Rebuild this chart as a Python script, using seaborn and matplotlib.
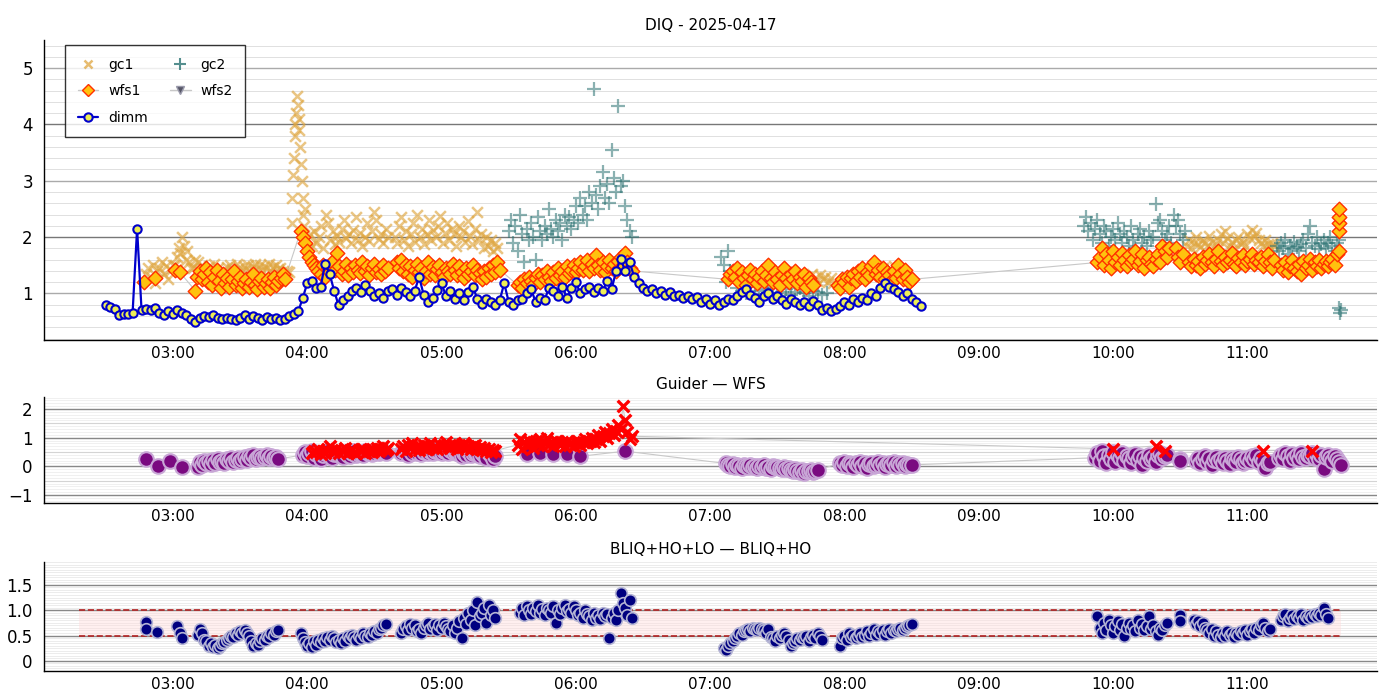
import numpy as np
import pandas as pd
import matplotlib
matplotlib.use("Agg")
import matplotlib.pyplot as plt
import seaborn as sns
from matplotlib.lines import Line2D
from matplotlib.ticker import FuncFormatter, MultipleLocator

# ---- data (times "HH:MM", values per segment) ----
gc1_segments = [
    ("02:48", "03:00", [1.35, 1.45, 1.30, 1.50, 1.18, 1.40, 1.45, 1.55, 1.35, 1.48, 1.25, 1.42, 1.50]),
    ("03:01", "03:08", [1.50, 1.65, 1.80, 1.72, 2.00, 1.85, 1.60, 1.75, 1.55, 1.45]),
    ("03:09", "03:49", [1.45, 1.60, 1.55, 1.38, 1.50, 1.42, 1.35, 1.48, 1.40, 1.52, 1.36, 1.45, 1.30, 1.42,
                        1.38, 1.47, 1.50, 1.44, 1.40, 1.52, 1.46, 1.38, 1.49, 1.43, 1.51, 1.40, 1.47, 1.53,
                        1.44, 1.50, 1.41, 1.48, 1.45, 1.52, 1.39, 1.47, 1.50, 1.43, 1.46, 1.40]),
    ("03:51", "03:52", [1.40, 1.38]),
    ("03:53", "03:59", [2.25, 2.70, 3.10, 3.40, 3.80, 4.00, 4.20, 4.50, 4.35, 4.10, 3.90, 3.60, 3.30, 3.00,
                        2.70, 2.40, 2.20, 2.50]),
    ("04:00", "04:36", [1.95, 2.05, 1.85, 2.10, 1.90, 2.00, 2.20, 1.80, 2.40, 2.25, 1.95, 2.10, 1.88, 2.02,
                        1.92, 2.15, 2.30, 1.98, 2.05, 1.90, 2.12, 2.35, 1.95, 2.08, 1.85, 2.00, 2.25, 1.93,
                        2.10, 2.45, 2.30, 1.97, 2.05, 1.90, 2.15, 2.00]),
    ("04:39", "05:25", [2.00, 1.90, 2.20, 2.35, 1.95, 2.10, 1.85, 2.05, 2.25, 1.92, 2.40, 2.00, 2.15, 1.88,
                        2.05, 2.30, 1.95, 2.12, 2.00, 2.20, 2.38, 1.90, 2.08, 2.25, 1.95, 2.15, 2.05, 1.85,
                        2.20, 2.00, 2.10, 1.92, 2.28, 2.02, 1.88, 2.15, 2.45, 1.95, 2.05, 1.80, 2.00, 1.85,
                        1.95, 1.75, 1.90, 1.80]),
    ("07:42", "07:55", [1.25, 1.30, 1.20, 1.35, 1.28, 1.22, 1.32, 1.25, 1.30, 1.20, 1.27, 1.18]),
    ("08:13", "08:25", [1.30, 1.40, 1.35, 1.45, 1.38, 1.42, 1.32, 1.48, 1.36, 1.40]),
    ("10:33", "11:12", [1.85, 1.95, 1.80, 1.90, 2.00, 1.88, 1.82, 1.95, 1.90, 1.85, 2.02, 1.92, 1.80, 1.88,
                        1.95, 2.05, 1.90, 2.10, 1.98, 1.85, 1.92, 1.80, 1.95, 2.00, 1.88, 1.92, 1.85, 2.05,
                        1.98, 2.12, 2.00, 2.08, 1.95, 1.90, 1.85, 1.95, 1.88, 1.80, 1.90, 1.85]),
]

gc2_segments = [
    ("05:30", "06:25", [2.10, 2.30, 1.90, 2.20, 1.75, 2.40, 2.05, 1.55, 2.15, 1.95, 2.25, 2.00, 1.60, 2.35,
                        2.10, 1.95, 2.20, 2.05, 2.50, 2.15, 2.00, 2.30, 2.10, 2.25, 1.95, 2.40, 2.20, 2.35,
                        2.15, 2.30, 2.55, 2.25, 2.70, 2.40, 2.55, 2.30, 2.80, 2.60, 4.62, 2.75, 2.50, 2.90,
                        3.15, 2.70, 2.95, 2.60, 3.55, 3.05, 2.80, 4.32, 2.90, 3.00, 2.55, 2.30, 2.10, 2.00]),
    ("07:05", "07:09", [1.65, 1.50, 1.20, 1.75, 1.40]),
    ("07:12", "07:52", [1.10, 1.05, 1.00, 1.12, 0.98, 1.05, 1.08, 1.00, 1.10, 0.95, 1.03, 1.07, 0.98, 1.02,
                        1.10, 1.00, 0.96, 1.05, 1.02, 0.98, 1.00]),
    ("09:47", "10:32", [2.20, 2.35, 2.10, 2.25, 1.95, 2.15, 2.30, 2.05, 1.90, 2.20, 2.10, 1.85, 2.00, 2.15,
                        1.95, 2.25, 2.05, 1.90, 2.10, 2.00, 1.85, 2.20, 1.95, 1.80, 2.05, 2.15, 1.90, 2.00,
                        1.85, 2.10, 1.95, 2.00, 2.58, 2.25, 2.30, 2.10, 1.95, 2.05, 2.20, 1.90, 2.40, 2.20,
                        2.30, 2.05, 1.95, 2.10]),
    ("11:13", "11:41", [1.85, 1.75, 1.90, 1.80, 1.95, 1.70, 1.85, 1.78, 1.92, 1.82, 1.75, 1.88, 1.95, 1.80,
                        2.05, 2.20, 1.90, 1.85, 2.00, 1.78, 1.88, 1.95, 1.80, 1.90, 2.00, 1.85, 1.75, 1.90,
                        1.95]),
    ("11:41", "11:42", [0.75, 0.65, 0.70]),
]

wfs1_segments = [
    ("02:47", "02:52", [1.20, 1.27]),
    ("03:01", "03:03", [1.41, 1.38]),
    ("03:10", "03:50", [1.05, 1.30, 1.40, 1.25, 1.35, 1.45, 1.20, 1.38, 1.15, 1.30, 1.42, 1.22, 1.10, 1.35,
                        1.18, 1.28, 1.12, 1.25, 1.40, 1.15, 1.22, 1.30, 1.10, 1.18, 1.25, 1.12, 1.20, 1.35,
                        1.15, 1.08, 1.22, 1.28, 1.12, 1.18, 1.25, 1.10, 1.20, 1.30, 1.15, 1.22, 1.28, 1.35,
                        1.25]),
    ("03:57", "04:04", [2.10, 2.00, 1.90, 1.75, 1.65, 1.55, 1.50, 1.45]),
    ("04:05", "04:36", [1.40, 1.35, 1.50, 1.30, 1.45, 1.38, 1.55, 1.42, 1.72, 1.48, 1.35, 1.40, 1.52, 1.33,
                        1.45, 1.38, 1.50, 1.42, 1.36, 1.55, 1.40, 1.48, 1.32, 1.45, 1.52, 1.38, 1.43, 1.35,
                        1.50, 1.40, 1.46]),
    ("04:40", "05:26", [1.55, 1.45, 1.60, 1.40, 1.50, 1.35, 1.48, 1.30, 1.42, 1.52, 1.38, 1.45, 1.28, 1.40,
                        1.55, 1.35, 1.47, 1.32, 1.43, 1.50, 1.38, 1.30, 1.45, 1.40, 1.35, 1.52, 1.42, 1.33,
                        1.48, 1.38, 1.28, 1.45, 1.35, 1.40, 1.50, 1.32, 1.42, 1.36, 1.25, 1.40, 1.30, 1.45,
                        1.35, 1.50, 1.38, 1.55, 1.42]),
    ("05:34", "06:25", [1.15, 1.20, 1.10, 1.25, 1.18, 1.30, 1.22, 1.15, 1.28, 1.35, 1.20, 1.32, 1.25, 1.40,
                        1.30, 1.22, 1.38, 1.28, 1.45, 1.33, 1.40, 1.30, 1.48, 1.36, 1.42, 1.50, 1.38, 1.45,
                        1.55, 1.42, 1.48, 1.60, 1.40, 1.52, 1.45, 1.68, 1.50, 1.42, 1.55, 1.38, 1.48, 1.60,
                        1.45, 1.52, 1.40, 1.58, 1.65, 1.50, 1.72, 1.55, 1.45, 1.40]),
    ("07:08", "07:46", [1.25, 1.35, 1.40, 1.30, 1.45, 1.20, 1.38, 1.28, 1.15, 1.32, 1.42, 1.25, 1.35, 1.18,
                        1.30, 1.40, 1.22, 1.33, 1.50, 1.28, 1.20, 1.38, 1.25, 1.15, 1.32, 1.45, 1.28, 1.20,
                        1.35, 1.25, 1.40, 1.18, 1.30, 1.22, 1.35, 1.12, 1.28, 1.20, 1.15]),
    ("07:57", "08:30", [1.15, 1.10, 1.25, 1.20, 1.30, 1.12, 1.28, 1.35, 1.22, 1.40, 1.30, 1.45, 1.25, 1.38,
                        1.32, 1.48, 1.56, 1.35, 1.42, 1.30, 1.45, 1.25, 1.38, 1.33, 1.22, 1.40, 1.28, 1.50,
                        1.35, 1.25, 1.42, 1.30, 1.20, 1.25]),
    ("09:53", "10:25", [1.55, 1.65, 1.80, 1.50, 1.70, 1.60, 1.45, 1.75, 1.55, 1.65, 1.50, 1.72, 1.60, 1.48,
                        1.68, 1.55, 1.62, 1.75, 1.50, 1.58, 1.70, 1.45, 1.60, 1.65, 1.52, 1.48, 1.62, 1.70,
                        1.55, 1.85, 1.75, 1.65, 1.80]),
    ("10:28", "10:31", [1.80, 1.65, 1.55, 1.70]),
    ("10:34", "11:12", [1.55, 1.48, 1.62, 1.50, 1.58, 1.45, 1.65, 1.52, 1.60, 1.70, 1.55, 1.48, 1.62, 1.75,
                        1.58, 1.50, 1.65, 1.55, 1.60, 1.72, 1.52, 1.48, 1.63, 1.55, 1.68, 1.50, 1.58, 1.62,
                        1.70, 1.52, 1.60, 1.55, 1.65, 1.48, 1.58, 1.70, 1.55, 1.45, 1.60]),
    ("11:15", "11:40", [1.50, 1.42, 1.55, 1.38, 1.48, 1.60, 1.45, 1.40, 1.52, 1.35, 1.58, 1.45, 1.50, 1.62,
                        1.42, 1.55, 1.48, 1.60, 1.45, 1.52, 1.58, 1.48, 1.55, 1.62, 1.50, 1.70]),
    ("11:41", "11:41", [1.75, 2.10, 2.25, 2.35, 2.50]),
]

# dimm: one reading every 2 minutes from 02:30
dimm_start = "02:30"
dimm_values = [
    0.80, 0.76, 0.72, 0.62, 0.63, 0.64, 0.66, 2.15, 0.70, 0.72, 0.70, 0.75, 0.66, 0.62, 0.68,
    0.64, 0.70, 0.66, 0.62, 0.55, 0.50, 0.57, 0.60, 0.58, 0.62, 0.56, 0.54, 0.57, 0.54, 0.52,
    0.56, 0.62, 0.55, 0.60, 0.57, 0.53, 0.58, 0.55, 0.57, 0.53, 0.55, 0.60, 0.64, 0.68, 0.92,
    1.18, 1.22, 1.10, 1.12, 1.53, 1.35, 1.05, 0.79, 0.88, 0.95, 1.05, 1.10, 1.02, 1.15, 1.05,
    0.95, 1.00, 0.92, 1.05, 1.08, 0.98, 1.10, 1.03, 0.96, 1.05, 1.29, 0.98, 0.85, 0.92, 1.06,
    1.18, 0.95, 1.05, 0.90, 1.00, 0.88, 1.02, 1.12, 0.90, 0.82, 0.90, 0.85, 0.80, 0.88, 1.18,
    0.85, 0.80, 0.88, 0.90, 1.00, 1.08, 0.85, 0.92, 0.88, 1.10, 1.05, 0.95, 1.12, 0.92, 1.10,
    1.20, 1.00, 1.08, 1.12, 1.02, 1.10, 1.05, 1.22, 1.08, 1.40, 1.62, 1.40, 1.56, 1.30, 1.18,
    1.10, 1.05, 1.08, 1.00, 1.05, 0.98, 1.02, 0.95, 0.98, 0.92, 0.96, 0.90, 0.93, 0.85, 0.90,
    0.82, 0.88, 0.80, 0.85, 0.90, 0.88, 0.95, 1.02, 1.08, 0.98, 0.92, 0.85, 0.95, 1.00, 0.90,
    0.95, 0.88, 0.82, 0.90, 0.85, 0.80, 0.85, 0.78, 0.86, 0.80, 0.70, 0.75, 0.68, 0.72, 0.78,
    0.85, 0.80, 0.90, 0.85, 0.92, 0.88, 1.00, 0.95, 1.10, 1.18, 1.12, 1.08, 1.02, 0.95, 1.00,
    0.90, 0.85, 0.77,
]

# Guider - WFS differences
gw_purple_segments = [
    ("02:48", "03:04", [0.24, 0.02, 0.20, -0.04]),
    ("03:11", "03:47", [-0.04, 0.15, 0.05, 0.20, 0.10, 0.18, 0.08, 0.22, 0.12, 0.25, 0.15, 0.20, 0.10, 0.24,
                        0.18, 0.28, 0.15, 0.22, 0.30, 0.20, 0.26, 0.32, 0.22, 0.35, 0.28, 0.38, 0.25, 0.32,
                        0.36, 0.28, 0.34, 0.38, 0.30, 0.35, 0.28, 0.33, 0.25]),
    ("03:58", "04:35", [0.40, 0.50, 0.35, 0.45, 0.55, 0.30, 0.42, 0.48, 0.25, 0.38, 0.45, 0.52, 0.35, 0.28,
                        0.42, 0.48, 0.38, 0.45, 0.32, 0.50, 0.40, 0.35, 0.46, 0.52, 0.38, 0.44, 0.48, 0.40,
                        0.55, 0.45, 0.50, 0.42, 0.48, 0.52, 0.45, 0.50, 0.55, 0.48]),
    ("04:42", "05:24", [0.45, 0.55, 0.50, 0.40, 0.58, 0.48, 0.52, 0.45, 0.55, 0.42, 0.50, 0.58, 0.48, 0.52,
                        0.45, 0.55, 0.60, 0.50, 0.48, 0.55, 0.52, 0.45, 0.58, 0.50, 0.55, 0.48, 0.42, 0.35,
                        0.45, 0.40, 0.52, 0.38, 0.45, 0.50, 0.42, 0.35, 0.48, 0.40, 0.30, 0.45, 0.38, 0.25,
                        0.35]),
    ("05:38", "06:02", [0.44, 0.45, 0.43, 0.42, 0.35]),
    ("06:22", "06:22", [0.53]),
    ("07:07", "07:48", [0.10, 0.05, 0.00, 0.08, -0.02, 0.05, 0.02, -0.05, 0.03, 0.00, -0.04, 0.04, -0.02, 0.02,
                        -0.06, 0.00, -0.03, 0.03, -0.05, -0.01, -0.08, 0.00, -0.04, -0.02, -0.06, -0.10, -0.03,
                        -0.08, -0.05, -0.12, -0.15, -0.10, -0.18, -0.20, -0.14, -0.22, -0.18, -0.16, -0.12,
                        -0.20, -0.15, -0.12]),
    ("07:58", "08:30", [0.10, 0.05, 0.15, 0.00, 0.12, 0.08, -0.02, 0.10, 0.05, 0.15, 0.02, 0.10, -0.05, 0.08,
                        0.12, 0.00, 0.06, 0.14, 0.03, 0.10, -0.03, 0.08, 0.12, 0.04, 0.15, 0.02, 0.10, 0.06,
                        0.12, 0.00, 0.08, 0.04, 0.05]),
    ("09:52", "10:24", [0.30, 0.45, 0.20, 0.55, 0.35, 0.10, 0.40, 0.25, 0.50, 0.15, 0.38, 0.30, 0.45, 0.20,
                        0.35, 0.28, 0.10, 0.32, 0.42, 0.22, 0.35, 0.05, 0.30, 0.18, 0.40, 0.25, 0.32, 0.15,
                        0.38, 0.45, 0.28, 0.35, 0.40]),
    ("10:30", "10:30", [0.26, 0.18]),
    ("10:37", "11:10", [0.20, 0.30, 0.10, 0.25, 0.35, 0.15, 0.28, 0.05, 0.22, 0.32, 0.18, 0.25, 0.12, 0.30,
                        0.20, 0.08, 0.28, 0.22, 0.15, 0.32, 0.25, 0.10, 0.20, 0.30, 0.18, 0.35, 0.25, 0.40,
                        0.15, 0.28, 0.20, -0.05, 0.10, 0.15]),
    ("11:14", "11:42", [0.30, 0.40, 0.25, 0.45, 0.35, 0.20, 0.42, 0.30, 0.38, 0.25, 0.45, 0.32, 0.28, 0.40,
                        0.35, 0.48, 0.30, 0.42, 0.25, 0.38, -0.10, 0.32, 0.40, 0.28, 0.20, 0.35, 0.25, 0.15,
                        0.05]),
]

gw_red_segments = [
    ("04:02", "04:36", [0.45, 0.55, 0.50, 0.60, 0.42, 0.52, 0.48, 0.58, 0.70, 0.55, 0.50, 0.62, 0.45, 0.58,
                        0.52, 0.65, 0.48, 0.55, 0.60, 0.50, 0.45, 0.58, 0.52, 0.62, 0.48, 0.55, 0.60, 0.50,
                        0.58, 0.65, 0.55, 0.62, 0.70, 0.58, 0.65]),
    ("04:42", "05:24", [0.60, 0.70, 0.55, 0.75, 0.65, 0.80, 0.62, 0.72, 0.58, 0.68, 0.75, 0.62, 0.70, 0.82,
                        0.65, 0.72, 0.60, 0.78, 0.68, 0.75, 0.85, 0.70, 0.65, 0.78, 0.72, 0.62, 0.75, 0.68,
                        0.80, 0.65, 0.72, 0.60, 0.70, 0.75, 0.62, 0.68, 0.58, 0.65, 0.55, 0.62, 0.50, 0.58,
                        0.55]),
    ("05:34", "06:25", [0.75, 0.95, 0.60, 0.85, 0.70, 0.90, 0.80, 0.65, 0.88, 0.75, 0.95, 0.70, 0.82, 1.00,
                        0.78, 0.85, 0.72, 0.90, 0.80, 0.75, 0.85, 0.70, 0.88, 0.78, 0.82, 0.72, 0.80, 0.90,
                        0.75, 0.85, 0.95, 0.80, 0.90, 1.00, 0.85, 0.95, 1.10, 0.90, 1.05, 1.20, 0.98, 1.15,
                        1.30, 1.10, 1.25, 1.45, 1.30, 2.10, 1.60, 1.20, 0.95, 1.05]),
    ("10:00", "10:00", [0.61]),
    ("10:19", "10:23", [0.71, 0.55]),
    ("11:07", "11:07", [0.55]),
    ("11:29", "11:29", [0.55]),
]

# BLIQ+HO+LO - BLIQ+HO
bliq_segments = [
    ("02:48", "02:48", [0.76, 0.63]),
    ("02:53", "02:53", [0.57]),
    ("03:02", "03:04", [0.68, 0.55, 0.46]),
    ("03:11", "03:47", [0.52, 0.62, 0.55, 0.42, 0.40, 0.30, 0.35, 0.28, 0.32, 0.25, 0.30, 0.35, 0.38, 0.42,
                        0.45, 0.50, 0.48, 0.55, 0.52, 0.58, 0.55, 0.60, 0.55, 0.50, 0.40, 0.30, 0.35, 0.32,
                        0.40, 0.45, 0.42, 0.50, 0.48, 0.55, 0.52, 0.58, 0.60]),
    ("03:57", "04:35", [0.55, 0.45, 0.38, 0.30, 0.35, 0.28, 0.40, 0.32, 0.42, 0.38, 0.45, 0.40, 0.48, 0.42,
                        0.50, 0.45, 0.38, 0.42, 0.35, 0.45, 0.40, 0.50, 0.45, 0.52, 0.48, 0.42, 0.50, 0.45,
                        0.55, 0.50, 0.48, 0.55, 0.52, 0.58, 0.55, 0.62, 0.65, 0.70, 0.72]),
    ("04:42", "05:24", [0.55, 0.62, 0.68, 0.60, 0.72, 0.65, 0.70, 0.58, 0.62, 0.55, 0.65, 0.70, 0.75, 0.62,
                        0.68, 0.72, 0.60, 0.70, 0.65, 0.75, 0.68, 0.62, 0.58, 0.70, 0.55, 0.65, 0.78, 0.46,
                        0.85, 0.72, 0.95, 0.80, 1.00, 0.70, 1.17, 0.88, 0.95, 1.05, 0.75, 1.10, 0.90, 1.00,
                        0.85]),
    ("05:35", "06:25", [0.95, 1.05, 0.90, 1.08, 1.00, 0.92, 1.05, 0.98, 1.10, 0.95, 1.02, 0.90, 1.05, 1.00,
                        0.95, 1.08, 0.75, 1.00, 0.92, 1.05, 1.10, 0.98, 1.02, 0.95, 1.08, 1.00, 0.90, 0.95,
                        0.85, 1.00, 0.92, 0.88, 0.80, 0.95, 0.85, 0.90, 0.82, 0.95, 0.88, 0.92, 0.45, 0.85,
                        0.95, 0.80, 1.00, 1.33, 1.15, 1.05, 0.90, 1.20, 0.85]),
    ("07:06", "07:50", [0.25, 0.22, 0.30, 0.35, 0.40, 0.45, 0.50, 0.55, 0.52, 0.58, 0.60, 0.62, 0.58, 0.65,
                        0.62, 0.60, 0.65, 0.63, 0.60, 0.55, 0.62, 0.48, 0.45, 0.40, 0.50, 0.45, 0.52, 0.55,
                        0.50, 0.42, 0.30, 0.35, 0.40, 0.45, 0.42, 0.48, 0.45, 0.50, 0.40, 0.48, 0.52, 0.45,
                        0.55, 0.50, 0.42]),
    ("07:58", "08:30", [0.30, 0.45, 0.50, 0.42, 0.55, 0.48, 0.52, 0.45, 0.50, 0.55, 0.48, 0.52, 0.58, 0.50,
                        0.55, 0.62, 0.52, 0.58, 0.55, 0.60, 0.52, 0.58, 0.62, 0.55, 0.60, 0.58, 0.62, 0.65,
                        0.60, 0.65, 0.68, 0.70, 0.72]),
    ("09:53", "10:24", [0.88, 0.65, 0.55, 0.75, 0.60, 0.80, 0.70, 0.55, 0.68, 0.78, 0.60, 0.72, 0.50, 0.65,
                        0.75, 0.62, 0.70, 0.58, 0.80, 0.65, 0.72, 0.60, 0.68, 0.88, 0.62, 0.70, 0.58, 0.52,
                        0.65, 0.60, 0.70, 0.75]),
    ("10:30", "10:30", [0.90, 0.78]),
    ("10:36", "11:10", [0.80, 0.72, 0.78, 0.68, 0.75, 0.65, 0.60, 0.55, 0.62, 0.50, 0.58, 0.52, 0.48, 0.55,
                        0.50, 0.58, 0.52, 0.55, 0.48, 0.55, 0.52, 0.58, 0.55, 0.60, 0.52, 0.58, 0.62, 0.55,
                        0.65, 0.60, 0.70, 0.75, 0.65, 0.58, 0.62]),
    ("11:15", "11:36", [0.80, 0.88, 0.92, 0.78, 0.85, 0.90, 0.82, 0.88, 0.85, 0.92, 0.80, 0.88, 0.85, 0.90,
                        0.86, 0.92, 0.88, 0.95, 0.90, 1.05, 0.92, 0.85]),
]

band_start, band_end = "02:18", "11:42"
band_low, band_high = 0.5, 1.0


def to_hours(s):
    h, m = s.split(":")
    return int(h) + int(m) / 60.0


def build(segments):
    parts = []
    for t0, t1, vals in segments:
        t = np.linspace(to_hours(t0), to_hours(t1), len(vals))
        parts.append(pd.DataFrame({"t": t, "v": vals}))
    return pd.concat(parts, ignore_index=True)


gc1 = build(gc1_segments)
gc2 = build(gc2_segments)
wfs1 = build(wfs1_segments)
dimm = pd.DataFrame({"t": to_hours(dimm_start) + np.arange(len(dimm_values)) * 2 / 60.0,
                     "v": dimm_values})
gw_purple = build(gw_purple_segments)
gw_red = build(gw_red_segments)
bliq = build(bliq_segments)

sns.set_style("white")
plt.rcParams["font.family"] = ["DejaVu Sans"]
plt.rcParams["text.color"] = "black"
plt.rcParams["xtick.color"] = "black"
plt.rcParams["ytick.color"] = "black"

fig = plt.figure(figsize=(14, 7), dpi=100)
ax1 = fig.add_axes([0.0314, 0.514, 0.9522, 0.429])
ax2 = fig.add_axes([0.0314, 0.2814, 0.9522, 0.1515])
ax3 = fig.add_axes([0.0314, 0.0414, 0.9522, 0.1557])

GREY = "#c8c8c8"
GC1 = "#dfa640"
GC2 = "#2a7272"

# ---- DIQ ----
sns.scatterplot(data=gc1, x="t", y="v", marker="x", s=60, color=GC1, alpha=0.65,
                linewidth=1.8, ax=ax1, legend=False, zorder=3)
sns.scatterplot(data=gc2, x="t", y="v", marker="+", s=110, color=GC2, alpha=0.55,
                linewidth=1.6, ax=ax1, legend=False, zorder=3)
sns.lineplot(data=wfs1, x="t", y="v", sort=False, estimator=None, color=GREY, lw=0.8,
             ax=ax1, zorder=2)
sns.scatterplot(data=wfs1, x="t", y="v", marker="D", s=55, color="#ffc20e", edgecolor="#ff3000",
                linewidth=1.0, ax=ax1, legend=False, zorder=4)
sns.lineplot(data=dimm, x="t", y="v", sort=False, estimator=None, color="#0000cc", lw=1.6,
             marker="o", markersize=6, markerfacecolor="#eeee55", markeredgecolor="#0000cc",
             markeredgewidth=1.5, ax=ax1, zorder=5)

handles = [
    Line2D([], [], ls="none", marker="x", color=GC1, alpha=0.75, markersize=6, mew=1.8),
    Line2D([], [], color=GREY, lw=1, marker="D", markersize=6, markerfacecolor="#ffc20e",
           markeredgecolor="#ff3000"),
    Line2D([], [], color="#0000cc", lw=1.6, marker="o", markersize=6, markerfacecolor="#eeee55",
           markeredgecolor="#0000cc", markeredgewidth=1.5),
    Line2D([], [], ls="none", marker="+", color=GC2, alpha=0.8, markersize=8, mew=1.5),
    Line2D([], [], color=GREY, lw=1, marker="v", markersize=6, markerfacecolor="#555566",
           markeredgecolor="#9999aa"),
]
leg = ax1.legend(handles, ["gc1", "wfs1", "dimm", "gc2", "wfs2"], ncol=2, loc="upper left",
                 bbox_to_anchor=(0.0158, 0.983), borderaxespad=0, frameon=True, fancybox=False,
                 fontsize=10, borderpad=0.9, labelspacing=0.9, columnspacing=1.6,
                 handlelength=1.5, handletextpad=0.7)
leg.get_frame().set_edgecolor("black")
leg.get_frame().set_linewidth(1.0)
leg.set_zorder(10)
ax1.set_title("DIQ - 2025-04-17", fontsize=11, pad=7)
ax1.set_ylim(0.17, 5.5)
ax1.set_yticks([1, 2, 3, 4, 5])
ax1.yaxis.set_minor_locator(MultipleLocator(0.2))
for y in [1, 3, 5]:
    ax1.axhline(y, color="#aaaaaa", lw=1.0, zorder=1)
for y in [2, 4]:
    ax1.axhline(y, color="#777777", lw=1.0, zorder=1)

# ---- Guider - WFS ----
sns.lineplot(data=gw_purple, x="t", y="v", sort=False, estimator=None, color=GREY, lw=0.8,
             ax=ax2, zorder=2)
sns.lineplot(data=gw_red, x="t", y="v", sort=False, estimator=None, color=GREY, lw=0.8,
             ax=ax2, zorder=2)
sns.scatterplot(data=gw_purple, x="t", y="v", marker="o", s=110, color="#7a0a80",
                edgecolor="#c8a6d6", linewidth=1.5, ax=ax2, legend=False, zorder=3)
sns.scatterplot(data=gw_red, x="t", y="v", marker="x", s=70, color="#ff0000",
                linewidth=2.4, ax=ax2, legend=False, zorder=4)
ax2.set_title("Guider — WFS", fontsize=11, pad=6)
ax2.set_ylim(-1.28, 2.42)
ax2.set_yticks([-1, 0, 1, 2])
ax2.yaxis.set_minor_locator(MultipleLocator(0.1))
for y in [-1.5, -0.5, 0.5, 1.5]:
    ax2.axhline(y, color="#d4d4d4", lw=0.8, zorder=1)
for y in [-1, 0, 1, 2]:
    ax2.axhline(y, color="#888888", lw=1.0, zorder=1)

# ---- BLIQ ----
b0, b1 = to_hours(band_start), to_hours(band_end)
ax3.fill_between([b0, b1], band_low, band_high, color="#ffdcdc", alpha=0.45, lw=0, zorder=1)
ax3.hlines([band_low, band_high], b0, b1, colors="#b22222", linestyles="--", lw=1.2, zorder=2)
sns.scatterplot(data=bliq, x="t", y="v", marker="o", s=70, color="#000080",
                edgecolor="#b4b4d4", linewidth=1.2, ax=ax3, legend=False, zorder=3)
ax3.set_title("BLIQ+HO+LO — BLIQ+HO", fontsize=11, pad=6)
ax3.set_ylim(-0.2, 1.95)
ax3.set_yticks([0, 0.5, 1.0, 1.5])
ax3.set_yticklabels(["0", "0.5", "1.0", "1.5"])
ax3.yaxis.set_minor_locator(MultipleLocator(0.05))
for y in [0, 0.5, 1.0, 1.5]:
    ax3.axhline(y, color="#888888", lw=1.0, zorder=1.5)


def hhmm(x, pos):
    return "%02d:%02d" % (int(x), int(round((x - int(x)) * 60)))


minor_grid = {ax1: "#e0e0e0", ax2: "#f0f0f0", ax3: "#ececec"}
for ax in (ax1, ax2, ax3):
    ax.set_xlim(2.04, 11.965)
    ax.xaxis.set_major_locator(MultipleLocator(1))
    ax.xaxis.set_major_formatter(FuncFormatter(hhmm))
    ax.grid(which="minor", axis="y", color=minor_grid[ax], lw=0.7)
    ax.set_axisbelow(True)
    ax.set_xlabel("")
    ax.set_ylabel("")
    for side in ("top", "right"):
        ax.spines[side].set_visible(False)
    for side in ("left", "bottom"):
        ax.spines[side].set_color("black")
        ax.spines[side].set_linewidth(1.0)
    ax.tick_params(axis="x", direction="in", length=5, width=0.8, color="#555555",
                   labelsize=11, pad=4)
    ax.tick_params(axis="y", which="both", length=0, labelsize=12, pad=8)

fig.savefig("out.png", dpi=100)
